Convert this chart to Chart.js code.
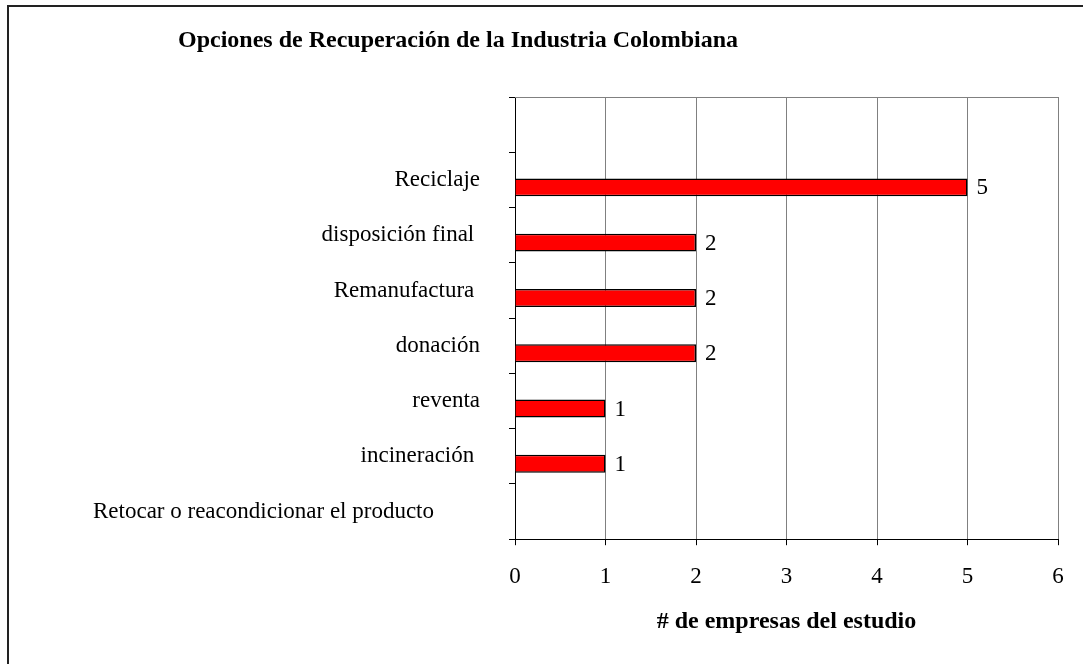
<!DOCTYPE html>
<html>
<head>
<meta charset="utf-8">
<script src="https://cdn.jsdelivr.net/npm/chart.js@4"></script>
<style>
  body { margin: 0; background: #fff; }
  #caja { position: relative; width: 1083px; height: 664px; }
  #marco { position: absolute; left: 7px; top: 5px; right: -10px; bottom: -10px;
           border-left: 2px solid #222; border-top: 2px solid #222; pointer-events: none; }
  canvas { position: absolute; left: 0; top: 0; }
</style>
</head>
<body>
<div id="caja">
  <canvas id="grafico" width="1083" height="664"></canvas>
  <div id="marco"></div>
</div>
<script>
const titulo = 'Opciones de Recuperación de la Industria Colombiana';
const categorias = ['', 'Reciclaje', 'disposición final ', 'Remanufactura ', 'donación', 'reventa',
  'incineración ', 'Retocar o reacondicionar el producto        '];
const empresas = [null, 5, 2, 2, 2, 1, 1, null];
const serieVacia = [null, null, null, null, null, null, null, null];
const ticksX = [0, 1, 2, 3, 4, 5, 6];

Chart.defaults.color = '#000';
Chart.defaults.font.family = "'Liberation Serif', 'Times New Roman', serif";

// etiquetas de valor al final de cada barra
const etiquetas = {
  id: 'etiquetas',
  afterDatasetsDraw(chart) {
    const ctx = chart.ctx;
    const meta = chart.getDatasetMeta(1);
    ctx.save();
    ctx.font = "23px 'Liberation Serif'";
    ctx.fillStyle = '#000';
    ctx.textAlign = 'left';
    ctx.textBaseline = 'middle';
    meta.data.forEach((bar, i) => {
      if (empresas[i] == null) return;
      ctx.fillText(String(empresas[i]), bar.x + 9, bar.y + 1);
    });
    ctx.restore();
  }
};

// linea gris arriba del area de trazado + titulo alineado como en el original
const marcoYTitulo = {
  id: 'marcoYTitulo',
  beforeDatasetsDraw(chart) {
    const { ctx, chartArea } = chart;
    ctx.save();
    ctx.strokeStyle = '#808080';
    ctx.lineWidth = 1;
    ctx.beginPath();
    ctx.moveTo(chartArea.left, chartArea.top + 0.5);
    ctx.lineTo(chartArea.right, chartArea.top + 0.5);
    ctx.stroke();
    ctx.restore();
  },
  afterDraw(chart) {
    const ctx = chart.ctx;
    ctx.save();
    ctx.font = "bold 24px 'Liberation Serif'";
    ctx.fillStyle = '#000';
    ctx.textAlign = 'left';
    ctx.textBaseline = 'middle';
    ctx.fillText(titulo, 178, 41);
    ctx.restore();
  }
};

new Chart(document.getElementById('grafico').getContext('2d'), {
  type: 'bar',
  data: {
    labels: categorias,
    datasets: [
      { label: 'vacia', data: serieVacia },
      {
        label: '# de empresas',
        data: empresas,
        backgroundColor: '#ff0000',
        borderColor: '#000',
        borderWidth: 1.5
      }
    ]
  },
  options: {
    indexAxis: 'y',
    responsive: false,
    animation: false,
    categoryPercentage: 0.54,
    barPercentage: 1.2,
    layout: { padding: { left: 40, right: 25, top: 97, bottom: 30 } },
    plugins: {
      legend: { display: false },
      tooltip: { enabled: false },
      title: { display: false }
    },
    scales: {
      x: {
        min: 0,
        max: 6,
        afterBuildTicks(scale) { scale.ticks = ticksX.map(v => ({ value: v })); },
        ticks: { font: { size: 23 }, padding: 18 },
        grid: { color: '#808080', tickColor: '#000', tickLength: 6 },
        border: { color: '#000', width: 1 },
        title: {
          display: true,
          text: '# de empresas del estudio',
          font: { size: 24, weight: 'bold', lineHeight: 1.05 },
          padding: { top: 0, bottom: 0 }
        }
      },
      y: {
        afterFit(scale) { scale.width = 515 - 40; },
        ticks: { font: { size: 23 }, padding: 29 },
        grid: { drawOnChartArea: false, color: '#000', tickColor: '#000', tickLength: 6 },
        border: { color: '#000', width: 1 }
      }
    }
  },
  plugins: [etiquetas, marcoYTitulo]
});
</script>
</body>
</html>
